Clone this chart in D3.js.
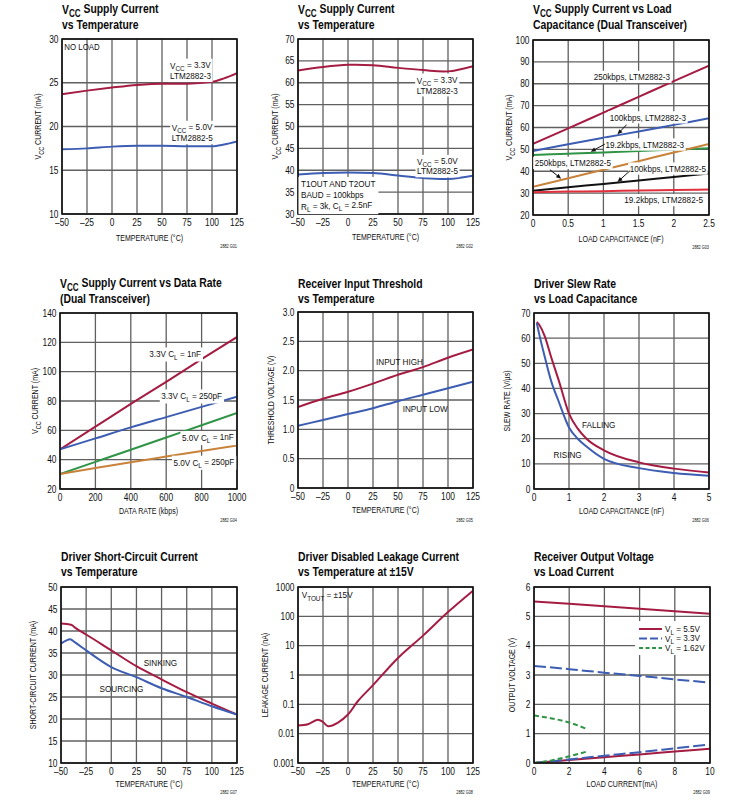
<!DOCTYPE html>
<html><head><meta charset="utf-8">
<script src="https://cdn.jsdelivr.net/npm/d3@7"></script>
<style>
body{margin:0;background:#fff;}
svg{display:block;}
text{font-family:"Liberation Sans",Arial,Helvetica,sans-serif;fill:#111;}
.title{font-weight:bold;font-size:13.5px;fill:#0a0a0a;}
.tick{font-size:10px;}
.atitle{font-size:9.4px;}
.lab{font-size:9.6px;}
.code{font-size:4.5px;}
</style></head><body>
<svg id="c" width="747" height="801"></svg>
<script>
// ---------- DATA ----------
const tempX = [-50,-25,0,25,50,75,100,125];
const tempTicks = [-50,-25,0,25,50,75,100,125];

// G01
const g01_x33 = [-50,-25,0,25,50,75,100,112,125];
const g01_33 = [23.7,24.1,24.45,24.75,24.9,24.9,25.1,25.5,26.1];
const g01_x50 = [-50,-25,0,25,50,75,100,112,125];
const g01_50 = [17.4,17.5,17.7,17.8,17.8,17.75,17.75,17.95,18.3];
// G02
const g02_33 = [62.8,63.6,64.1,64.0,63.4,62.9,62.6,63.8];
const g02_50 = [39.0,39.35,39.5,39.35,38.8,38.2,38.0,38.75];
// G03
const g03_x = [0,0.5,1,1.5,2,2.5];
const g03_250k3 = [52.5,59.6,66.8,74.0,81.2,88.3];
const g03_100k3 = [49.3,52.3,55.3,58.2,61.2,64.2];
const g03_19k3 = [47.4,48.0,48.6,49.3,49.9,50.5];
const g03_250k5 = [32.9,36.8,40.7,44.6,48.6,52.5];
const g03_100k5 = [31.1,32.7,34.2,35.8,37.4,39.0];
const g03_19k5 = [30.4,30.7,30.9,31.2,31.4,31.7];
// G04
const g04_x = [0,200,400,600,800,1000];
const g04_33_1n = [47,62.5,78,93,108.5,123.6];
const g04_33_250p = [47,54.5,62,69,76,83];
const g04_50_1n = [30.2,38.5,46.8,55.1,63.5,71.8];
const g04_50_250p = [30.2,34.3,38.3,42.1,45.9,49.7];
// G05
const g05_high = [1.38,1.52,1.64,1.78,1.93,2.06,2.22,2.36];
const g05_low = [1.06,1.16,1.26,1.36,1.48,1.59,1.70,1.81];
// G06
const g06_x = [0.08,0.15,0.3,0.5,0.7,1,1.25,1.5,2,3,4,5];
const g06_fall = [66.5,65.3,61,52,43.5,30,24,20,15.4,10.6,8.1,6.6];
const g06_rise = [66,61.5,53,42.5,35,24.5,20,16.9,12.0,8.3,6.4,5.3];
// G07
const g07_xs = [-50,-40,-35,-25,0,25,50,75,100,125];
const g07_sink = [41.7,41.4,40.6,39.2,35.6,32,29,26.1,23.5,21];
const g07_xo = [-50,-45,-41,-36,-25,0,25,50,75,100,125];
const g07_source = [37.1,37.8,38.1,37.4,35.6,31.8,29.5,27.0,25,22.9,21];
// G08
const g08_x = [-50,-40,-30,-25,-20,-10,0,10,25,50,75,100,125];
const g08_leak = [0.019,0.021,0.03,0.025,0.018,0.024,0.045,0.13,0.45,3.8,22,140,750];
const g08_ticks = [0.001,0.01,0.1,1,10,100,1000];
// G09
const g09_x = [0,2,4,6,8,10];
const g09_55hi = [5.51,5.43,5.34,5.26,5.17,5.09];
const g09_55lo = [0,0.1,0.2,0.29,0.39,0.49];
const g09_33hi = [3.31,3.20,3.08,2.97,2.85,2.74];
const g09_33lo = [0,0.12,0.25,0.37,0.5,0.63];
const g09_xg = [0,1,2,3];
const g09_162hi = [1.62,1.52,1.38,1.16];
const g09_162lo = [0,0.09,0.23,0.39];

// ---------- COLORS ----------
const RED = "#a51c43", BLUE = "#3d5db3", GREEN = "#2f9446", ORANGE = "#c8823a", BLACK = "#111", BRED = "#e0303e";
const SX = 0.85, SXA = 0.75, SXK = 0.84, SXT = 0.77;

const svg = d3.select("#c");

function rich(sel, str){
  const parts = str.split(/(_\{[^}]*\})/);
  let sub = false;
  parts.forEach(p=>{
    if(!p) return;
    const m = p.match(/^_\{([^}]*)\}$/);
    if(m){
      sel.append("tspan").attr("dy","0.3em").attr("font-size","78%").text(m[1]);
      sub = true;
    } else {
      const t = sel.append("tspan").text(p);
      if(sub){ t.attr("dy","-0.3em"); sub=false; }
    }
  });
  return sel;
}
function T(parent, x, y, cls, str, anchor, sx, rot){
  const g = parent.append("g").attr("transform", `translate(${x},${y})` + (rot?" rotate(-90)":"") + ` scale(${sx},1)`);
  const t = g.append("text").attr("class",cls).attr("x",0).attr("y",0).attr("text-anchor",anchor||"start");
  rich(t,str);
  return {g,t,x,y,sx};
}
const fmtT = d => d<0 ? "\u2013"+Math.abs(d) : String(d);

function panel(cfg){
  const {x0,x1,y0,y1} = cfg.box;
  const g = svg.append("g");
  const xs = d3.scaleLinear().domain(cfg.xd).range([x0,x1]);
  const ys = (cfg.log ? d3.scaleLog() : d3.scaleLinear()).domain(cfg.yd).range([y1,y0]);
  cfg.title.forEach((t,i)=> T(g, x0, cfg.tY+i*14.5, "title", t, "start", SXT));
  const gg = g.append("g").attr("stroke","#606060").attr("stroke-width",1.3);
  cfg.xt.forEach(v=> gg.append("line").attr("x1",xs(v)).attr("x2",xs(v)).attr("y1",y0).attr("y2",y1));
  cfg.yt.forEach(v=> gg.append("line").attr("y1",ys(v)).attr("y2",ys(v)).attr("x1",x0).attr("x2",x1));
  cfg.xt.forEach(v=> T(g, xs(v), y1+12.4, "tick", cfg.xf?cfg.xf(v):fmtT(v), "middle", SXK));
  cfg.yt.forEach(v=> T(g, x0-3.5, ys(v)+3.5, "tick", cfg.yf?cfg.yf(v):fmtT(v), "end", SXK));
  T(g, (x0+x1)/2, y1+cfg.xtY, "atitle", cfg.xtitle, "middle", SXA);
  T(g, x0-cfg.ytOff+3.3, (y0+y1)/2, "atitle", cfg.ytitle, "middle", SXA, true);
  T(g, x1, y1+cfg.codeY, "code", cfg.code, "end", 0.85);
  const cid = "clip"+cfg.code.replace(/\W/g,"");
  svg.append("clipPath").attr("id",cid).append("rect").attr("x",x0).attr("y",y0).attr("width",x1-x0).attr("height",y1-y0);
  const plot = g.append("g").attr("clip-path",`url(#${cid})`);
  const ctx = {g, plot, xs, ys};
  cfg.series.forEach(s=>{
    const line = d3.line().x((d,i)=>xs(s.x[i])).y(d=>ys(d)).curve(s.curve||d3.curveMonotoneX);
    plot.append("path").attr("d",line(s.y)).attr("fill","none").attr("stroke",s.color).attr("stroke-width",s.w||2).attr("stroke-dasharray",s.dash||null);
  });
  g.append("rect").attr("x",x0).attr("y",y0).attr("width",x1-x0).attr("height",y1-y0).attr("fill","none").attr("stroke","#111").attr("stroke-width",1.6);
  return ctx;
}

function label(ctx, lines, xv, yv, opt={}){
  const lh = opt.lh || 10;
  const gx = ctx.g.append("g");
  const px = ctx.xs(xv), py = ctx.ys(yv);
  const items = lines.map((l,i)=> T(gx, px, py+i*lh+3.4, "lab", l, opt.anchor||"start", opt.sx||SX));
  if(opt.bg!==false){
    let bb = null;
    items.forEach(it=>{const b=it.t.node().getBBox();
      const r={x:it.x+b.x*it.sx, y:it.y+b.y, x2:it.x+(b.x+b.width)*it.sx, y2:it.y+b.y+b.height};
      if(!bb) bb=r; else {bb.x=Math.min(bb.x,r.x);bb.y=Math.min(bb.y,r.y);bb.x2=Math.max(bb.x2,r.x2);bb.y2=Math.max(bb.y2,r.y2);} });
    const p = opt.pad||1.5;
    gx.insert("rect",":first-child").attr("x",bb.x-p).attr("y",bb.y-p*0.5).attr("width",bb.x2-bb.x+2*p).attr("height",bb.y2-bb.y+p).attr("fill","#fff");
  }
  return gx;
}

function arrow(ctx, xa, ya, xb, yb){
  const ax=ctx.xs(xa), ay=ctx.ys(ya), bx=ctx.xs(xb), by=ctx.ys(yb);
  const ang = Math.atan2(by-ay,bx-ax), L=5, W=2.2;
  ctx.g.append("line").attr("x1",ax).attr("y1",ay).attr("x2",bx-Math.cos(ang)*3).attr("y2",by-Math.sin(ang)*3).attr("stroke","#111").attr("stroke-width",1);
  const p1=[bx,by], p2=[bx-L*Math.cos(ang)+W*Math.sin(ang), by-L*Math.sin(ang)-W*Math.cos(ang)], p3=[bx-L*Math.cos(ang)-W*Math.sin(ang), by-L*Math.sin(ang)+W*Math.cos(ang)];
  ctx.g.append("path").attr("d","M"+p1+"L"+p2+"L"+p3+"Z").attr("fill","#111");
}

// ---------- PANELS ----------
const c1 = panel({box:{x0:62,x1:237,y0:39,y1:214}, tY:14, title:["V_{CC} Supply Current","vs Temperature"],
  xd:[-50,125], yd:[10,30], xt:tempTicks, yt:[10,15,20,25,30], xtitle:"TEMPERATURE (°C)", ytitle:"V_{CC} CURRENT (mA)", xtY:26.5, ytOff:24, code:"2882 G01", codeY:34,
  series:[{x:g01_x33,y:g01_33,color:RED},{x:g01_x50,y:g01_50,color:BLUE}]});
label(c1,["NO LOAD"],-47.7,29.1,{bg:false,sx:0.82});
label(c1,["V_{CC} = 3.3V","LTM2882-3"],58,27.0,{lh:10.5});
label(c1,["V_{CC} = 5.0V","LTM2882-5"],59.7,19.9,{lh:10.5});

const c2 = panel({box:{x0:298,x1:473,y0:39,y1:214}, tY:14, title:["V_{CC} Supply Current","vs Temperature"],
  xd:[-50,125], yd:[30,70], xt:tempTicks, yt:[30,35,40,45,50,55,60,65,70], xtitle:"TEMPERATURE (°C)", ytitle:"V_{CC} CURRENT (mA)", xtY:26, ytOff:23, code:"2882 G02", codeY:34,
  series:[{x:tempX,y:g02_33,color:RED,curve:d3.curveCatmullRom},{x:tempX,y:g02_50,color:BLUE,curve:d3.curveCatmullRom}]});
label(c2,["V_{CC} = 3.3V","LTM2882-3"],68.7,60.6,{lh:10});
label(c2,["V_{CC} = 5.0V","LTM2882-5"],69,42,{lh:9.5});
label(c2,["T1OUT AND T2OUT","BAUD = 100kbps","R_{L} = 3k, C_{L} = 2.5nF"],-47,37,{lh:11.4,pad:2.5});

const c3 = panel({box:{x0:533,x1:709,y0:40,y1:215}, tY:14, title:["V_{CC} Supply Current vs Load","Capacitance (Dual Transceiver)"],
  xd:[0,2.5], yd:[20,100], xt:[0,0.5,1,1.5,2,2.5], yt:[20,30,40,50,60,70,80,90,100], xtitle:"LOAD CAPACITANCE (nF)", ytitle:"V_{CC} CURRENT (mA)", xtY:26.5, ytOff:24, code:"2882 G03", codeY:34,
  series:[{x:g03_x,y:g03_250k3,color:RED},{x:g03_x,y:g03_100k3,color:BLUE},{x:g03_x,y:g03_19k3,color:GREEN},{x:g03_x,y:g03_250k5,color:ORANGE},{x:g03_x,y:g03_100k5,color:BLACK},{x:g03_x,y:g03_19k5,color:BRED}]});
label(c3,["250kbps, LTM2882-3"],0.862,83.2);
label(c3,["100kbps, LTM2882-3"],1.09,64.7);
label(c3,["19.2kbps, LTM2882-3"],1.03,52.3);
label(c3,["250kbps, LTM2882-5"],0.024,43.9);
label(c3,["100kbps, LTM2882-5"],1.374,41.3);
label(c3,["19.2kbps, LTM2882-5"],1.297,26.9);
arrow(c3,1.33,61.3,1.2,56.9);
arrow(c3,1.02,52.4,0.82,48.9);
arrow(c3,0.24,40.7,0.4,36.6);
arrow(c3,1.38,40.3,1.2,35.1);

const c4 = panel({box:{x0:60,x1:237,y0:313,y1:489}, tY:288, title:["V_{CC} Supply Current vs Data Rate","(Dual Transceiver)"],
  xd:[0,1000], yd:[20,140], xt:[0,200,400,600,800,1000], yt:[20,40,60,80,100,120,140], xtitle:"DATA RATE (kbps)", ytitle:"V_{CC} CURRENT (mA)", xtY:24.5, ytOff:25, code:"2882 G04", codeY:33,
  series:[{x:g04_x,y:g04_33_1n,color:RED},{x:g04_x,y:g04_33_250p,color:BLUE},{x:g04_x,y:g04_50_1n,color:GREEN},{x:g04_x,y:g04_50_250p,color:ORANGE}]});
label(c4,["3.3V C_{L} = 1nF"],504,112);
label(c4,["3.3V C_{L} = 250pF"],572,83.4);
label(c4,["5.0V C_{L} = 1nF"],689,55);
label(c4,["5.0V C_{L} = 250pF"],641,38.2);

const c5 = panel({box:{x0:298,x1:473,y0:312,y1:488}, tY:288, title:["Receiver Input Threshold","vs Temperature"],
  xd:[-50,125], yd:[0,3], xt:tempTicks, yt:[0,0.5,1,1.5,2,2.5,3], yf:d=>d===0?"0":d.toFixed(1), xtitle:"TEMPERATURE (°C)", ytitle:"THRESHOLD VOLTAGE (V)", xtY:25, ytOff:27.5, code:"2882 G05", codeY:34,
  series:[{x:tempX,y:g05_high,color:RED},{x:tempX,y:g05_low,color:BLUE}]});
label(c5,["INPUT HIGH"],28,2.15,{bg:false});
label(c5,["INPUT LOW"],54.7,1.36,{bg:false});

const c6 = panel({box:{x0:534,x1:709,y0:313,y1:489}, tY:288, title:["Driver Slew Rate","vs Load Capacitance"],
  xd:[0,5], yd:[0,70], xt:[0,1,2,3,4,5], yt:[0,10,20,30,40,50,60,70], xtitle:"LOAD CAPACITANCE (nF)", ytitle:"SLEW RATE (V/µs)", xtY:25, ytOff:27, code:"2882 G06", codeY:33,
  series:[{x:g06_x,y:g06_fall,color:RED},{x:g06_x,y:g06_rise,color:BLUE}]});
label(c6,["FALLING"],1.37,25.5,{bg:false});
label(c6,["RISING"],0.56,13.8,{bg:false});

const c7 = panel({box:{x0:61,x1:237,y0:587,y1:763}, tY:561, title:["Driver Short-Circuit Current","vs Temperature"],
  xd:[-50,125], yd:[10,50], xt:tempTicks, yt:[10,15,20,25,30,35,40,45,50], xtitle:"TEMPERATURE (°C)", ytitle:"SHORT-CIRCUIT CURRENT (mA)", xtY:23.5, ytOff:28, code:"2882 G07", codeY:31,
  series:[{x:g07_xs,y:g07_sink,color:RED},{x:g07_xo,y:g07_source,color:BLUE}]});
label(c7,["SINKING"],32.2,32.8,{bg:false});
label(c7,["SOURCING"],-11.7,26.9,{bg:false});

const c8 = panel({box:{x0:298,x1:473,y0:587,y1:763}, tY:561, title:["Driver Disabled Leakage Current","vs Temperature at ±15V"], log:true,
  xd:[-50,125], yd:[0.001,1000], xt:tempTicks, yt:g08_ticks, yf:d=>String(d), xtitle:"TEMPERATURE (°C)", ytitle:"LEAKAGE CURRENT (nA)", xtY:23.5, ytOff:33, code:"2882 G08", codeY:31,
  series:[{x:g08_x,y:g08_leak,color:RED,curve:d3.curveCatmullRom}]});
label(c8,["V_{TOUT} = ±15V"],-46.3,537,{bg:false});

const c9 = panel({box:{x0:534,x1:710,y0:587,y1:763}, tY:561, title:["Receiver Output Voltage","vs Load Current"],
  xd:[0,10], yd:[0,6], xt:[0,2,4,6,8,10], yt:[0,1,2,3,4,5,6], xtitle:"LOAD CURRENT(mA)", ytitle:"OUTPUT VOLTAGE (V)", xtY:23.5, ytOff:22, code:"2882 G09", codeY:31,
  series:[{x:g09_x,y:g09_55hi,color:RED},{x:g09_x,y:g09_55lo,color:RED},
          {x:g09_x,y:g09_33hi,color:BLUE,dash:"12,4"},{x:g09_x,y:g09_33lo,color:BLUE,dash:"12,4"},
          {x:g09_xg,y:g09_162hi,color:GREEN,dash:"5,3"},{x:g09_xg,y:g09_162lo,color:GREEN,dash:"5,3"}]});
(function(){
  const lg = c9.g.append("g");
  const bx = c9.xs(5.74), by = c9.ys(4.84);
  lg.append("rect").attr("x",bx).attr("y",by).attr("width",c9.xs(10)-bx-1).attr("height",34).attr("fill","#fff");
  const items = [["V_{L} = 5.5V",RED,null],["V_{L} = 3.3V",BLUE,"8,3"],["V_{L} = 1.62V",GREEN,"4,2.5"]];
  items.forEach((it,i)=>{
    const y = by+8+i*9.5;
    lg.append("line").attr("x1",bx+4).attr("x2",bx+27).attr("y1",y).attr("y2",y).attr("stroke",it[1]).attr("stroke-width",2).attr("stroke-dasharray",it[2]);
    T(lg, bx+30, y+3.4, "lab", it[0], "start", SX);
  });
})();
</script></body></html>
